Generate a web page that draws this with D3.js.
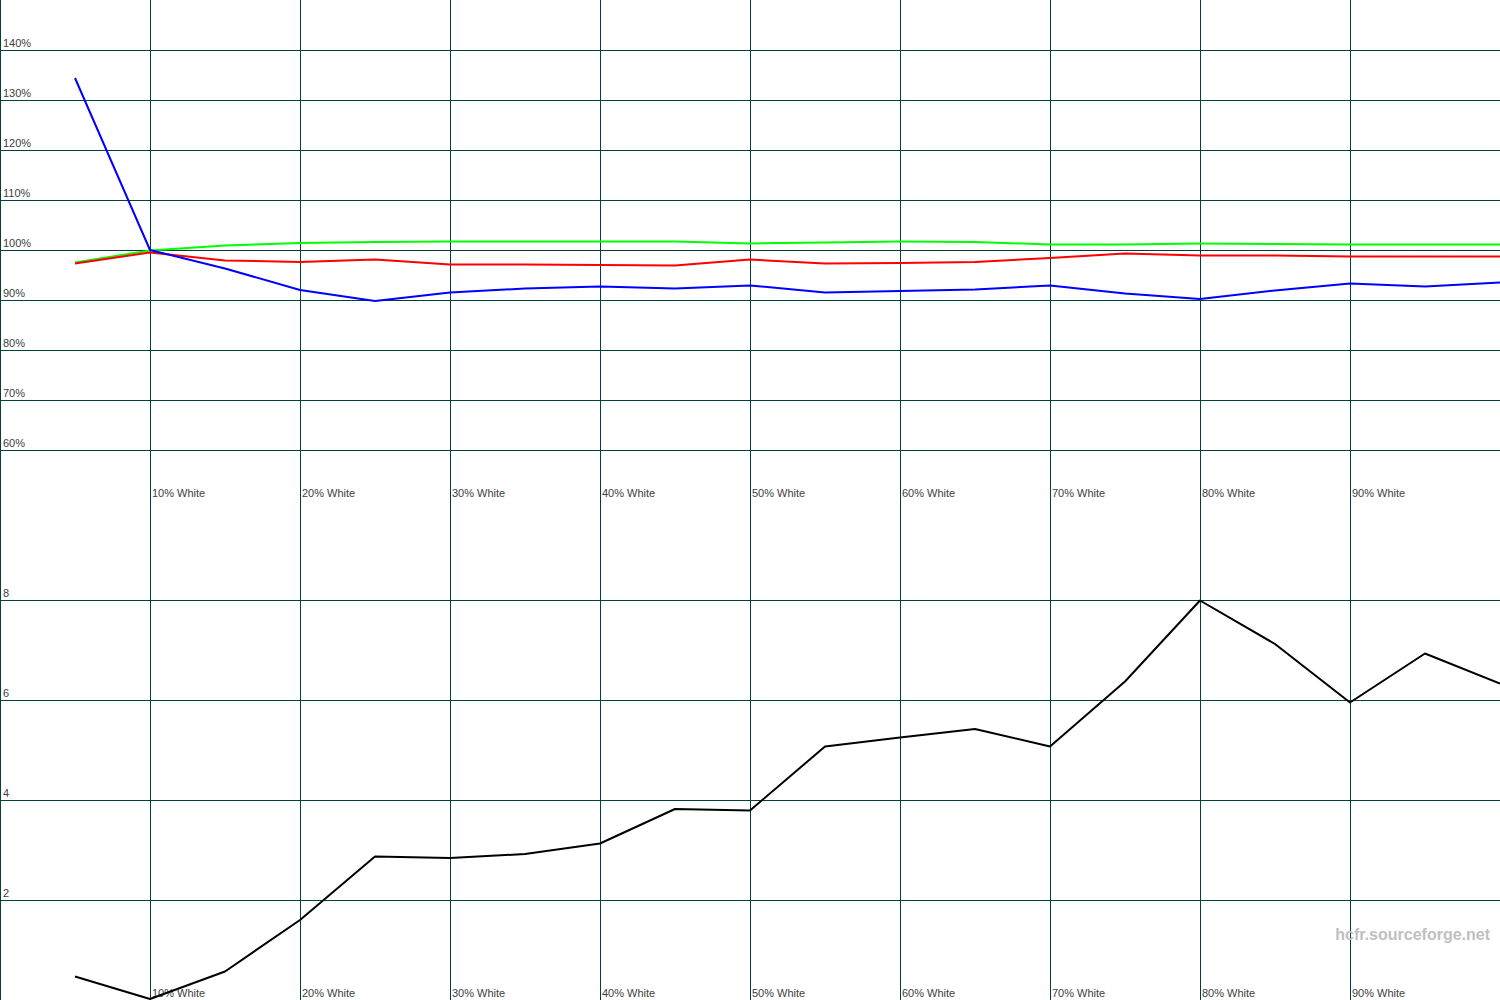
<!DOCTYPE html>
<html>
<head>
<meta charset="utf-8">
<script src="https://cdn.jsdelivr.net/npm/d3@7"></script>
<style>
  html, body { margin: 0; padding: 0; background: #ffffff; }
  svg { display: block; }
  text { font-family: "Liberation Sans", Arial, sans-serif; }
</style>
</head>
<body>
<svg id="chart" width="1500" height="1000"></svg>
<script>
// ---- data ----
const levels = [5,10,15,20,25,30,35,40,45,50,55,60,65,70,75,80,85,90,95,100];
const redValues   = [97.3,99.5,97.9,97.6,98.1,97.1,97.1,97.0,96.9,98.1,97.3,97.4,97.6,98.4,99.3,98.9,98.9,98.7,98.7,98.7];
const greenValues = [97.5,99.9,100.9,101.4,101.6,101.7,101.7,101.7,101.7,101.3,101.5,101.7,101.6,101.1,101.1,101.3,101.2,101.1,101.1,101.1];
const blueValues  = [134.4,100.0,96.3,92.0,89.8,91.5,92.3,92.7,92.3,92.9,91.5,91.8,92.1,92.9,91.3,90.2,91.9,93.3,92.7,93.5];
const deltaEValues = [0.47,0.02,0.57,1.6,2.87,2.84,2.92,3.13,3.82,3.79,5.07,5.25,5.42,5.07,6.37,7.99,7.12,5.95,6.93,6.33];
const xTicks = [10,20,30,40,50,60,70,80,90];
const xTickLabels = ["10% White","20% White","30% White","40% White","50% White","60% White","70% White","80% White","90% White"];
const topTicks = [140,130,120,110,100,90,80,70,60];
const topTickLabels = ["140%","130%","120%","110%","100%","90%","80%","70%","60%"];
const bottomTicks = [8,6,4,2];
const bottomTickLabels = ["8","6","4","2"];
const referenceLevel = 100;

// ---- layout ----
const W = 1500, H = 1000;
const svg = d3.select("#chart");
const gridColor = "#004040";
const textColor = "#404040";

const x = d3.scaleLinear().domain([0,100]).range([0,W]);
const yTop = d3.scaleLinear().domain([50,150]).range([500,0]);
const yBot = d3.scaleLinear().domain([0,10]).range([1000,500]);

// vertical gridlines (including left edge)
svg.append("g").selectAll("line").data([0].concat(xTicks)).join("line")
  .attr("x1", d => x(d) + 0.5).attr("x2", d => x(d) + 0.5)
  .attr("y1", 0).attr("y2", H)
  .attr("stroke", gridColor).attr("stroke-width", 1);

// horizontal gridlines top
svg.append("g").selectAll("line").data(topTicks).join("line")
  .attr("x1", 0).attr("x2", W)
  .attr("y1", d => yTop(d) + 0.5).attr("y2", d => yTop(d) + 0.5)
  .attr("stroke", gridColor).attr("stroke-width", 1);

// horizontal gridlines bottom
svg.append("g").selectAll("line").data(bottomTicks).join("line")
  .attr("x1", 0).attr("x2", W)
  .attr("y1", d => yBot(d) + 0.5).attr("y2", d => yBot(d) + 0.5)
  .attr("stroke", gridColor).attr("stroke-width", 1);

// reference dashed line at 100%
svg.append("line")
  .attr("x1", 0).attr("x2", W)
  .attr("y1", yTop(referenceLevel) + 0.5).attr("y2", yTop(referenceLevel) + 0.5)
  .attr("stroke", "#003333").attr("stroke-width", 1).attr("stroke-dasharray", "3,2");

// y labels
svg.append("g").selectAll("text").data(topTicks).join("text")
  .attr("x", 3).attr("y", d => yTop(d) - 3)
  .attr("font-size", 11).attr("fill", textColor)
  .text((d,i) => topTickLabels[i]);
svg.append("g").selectAll("text").data(bottomTicks).join("text")
  .attr("x", 3).attr("y", d => yBot(d) - 3)
  .attr("font-size", 11).attr("fill", textColor)
  .text((d,i) => bottomTickLabels[i]);

// x labels (top panel bottom & bottom panel bottom)
[497, 997].forEach(yy => {
  svg.append("g").selectAll("text").data(xTicks).join("text")
    .attr("x", d => x(d) + 2).attr("y", yy)
    .attr("font-size", 11).attr("fill", textColor)
    .text((d,i) => xTickLabels[i]);
});

// top panel lines
const topLine = d3.line().x((d,i) => x(levels[i])).y(d => yTop(d));
[[greenValues,"#00ff00"],[redValues,"#ff0000"],[blueValues,"#0000ff"]].forEach(([vals,col]) => {
  svg.append("path").attr("d", topLine(vals))
    .attr("fill","none").attr("stroke", col).attr("stroke-width", 2)
    .attr("stroke-linejoin","round");
});

// bottom panel line
const botLine = d3.line().x((d,i) => x(levels[i])).y(d => yBot(d));
svg.append("path").attr("d", botLine(deltaEValues))
  .attr("fill","none").attr("stroke","#000000").attr("stroke-width", 2)
  .attr("stroke-linejoin","round");

// watermark
svg.append("text")
  .attr("x", 1490).attr("y", 940).attr("text-anchor","end")
  .attr("font-size", 16).attr("font-weight","bold").attr("fill","#c0c0c0")
  .text("hcfr.sourceforge.net");
</script>
</body>
</html>
